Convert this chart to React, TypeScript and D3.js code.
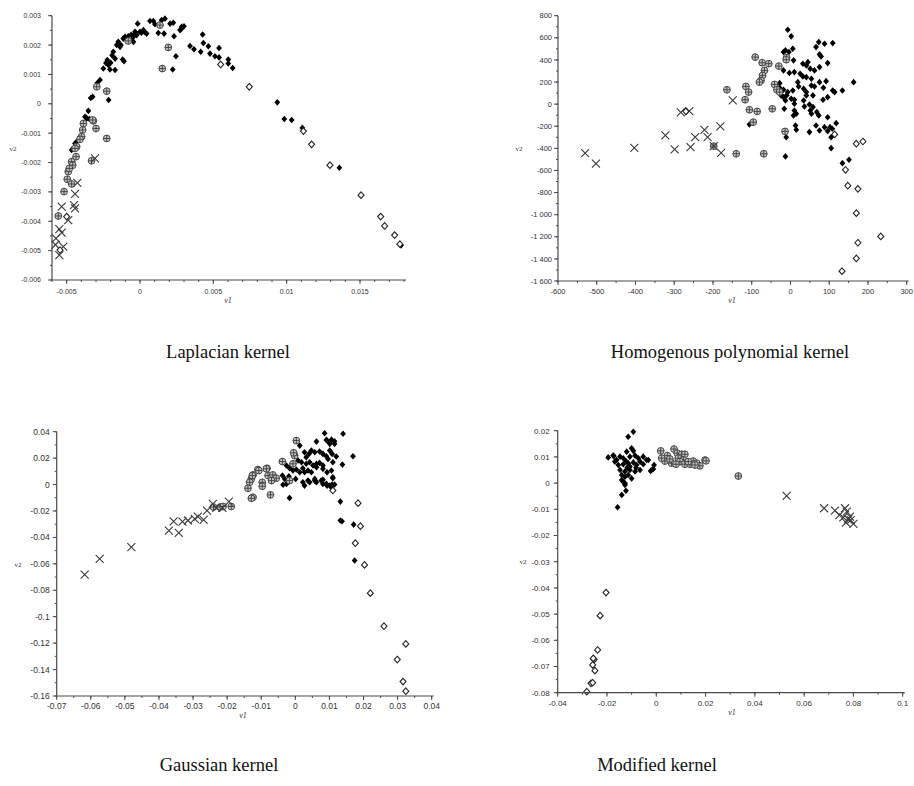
import * as d3 from "d3";

// ─── Data ────────────────────────────────────────────────────────────────────

type Pt = [number, number];

// Laplacian kernel
const LAP_FILLED: Pt[] = [
  [-0.00352, -0.00024], [-0.00368, -0.00046], [-0.00345, -0.00052], [-0.00323, 0.00024],
  [-0.00336, 0.0002], [-0.00291, 0.00071], [-0.00273, 0.00081], [-0.0025, 0.0012],
  [-0.00232, 0.00139], [-0.00216, 0.00132], [-0.00205, 0.00117], [-0.00223, 0.00149],
  [-0.0017, 0.00115], [-0.0017, 0.00154], [-0.00182, 0.00177], [-0.00159, 0.002],
  [-0.00148, 0.00211], [-0.00136, 0.00194], [-0.00114, 0.00222], [-0.00102, 0.00228],
  [-0.00118, 0.00151], [-0.00109, 0.00145], [-0.00057, 0.00217], [-0.00045, 0.00228],
  [-0.00034, 0.00245], [-0.00023, 0.00234], [-0.00016, 0.00273], [0, 0.00245],
  [0.00023, 0.00251], [0.00045, 0.00239], [-0.00045, 0.00211], [0.00068, 0.00282],
  [0.00091, 0.00282], [0.00102, 0.00271], [0.00125, 0.00241], [0.00148, 0.00285],
  [0.0017, 0.0029], [0.00164, 0.00239], [0.00205, 0.00273], [0.00227, 0.00276],
  [0.00232, 0.0023], [0.00245, 0.00162], [0.00223, 0.00117], [0.00273, 0.00251],
  [0.00284, 0.00262], [0.003, 0.00264], [-0.00214, 0.00013], [0.00284, 0.00256],
  [0.00341, 0.00197], [0.00368, 0.00186], [0.00414, 0.00177], [0.00427, 0.00236],
  [0.00432, 0.00207], [0.00466, 0.00196], [0.00477, 0.00171], [0.00511, 0.00162],
  [0.00539, 0.0019], [0.00539, 0.00158], [0.00602, 0.00151], [0.00602, 0.00137],
  [0.00632, 0.00122], [0.00936, 0.00005], [0.00984, -0.00052], [0.01034, -0.00055],
  [0.01107, -0.00082], [0.01359, -0.00218], [0.0178, -0.00482], [-0.0008, 0.0023],
  [-0.0006, 0.00235], [-0.0003, 0.0024], [0.0001, 0.00242], [0.0003, 0.00245],
  [-0.0013, 0.002], [-0.0019, 0.00165], [-0.002, 0.0014], [-0.00375, -0.00044],
  [-0.00363, -0.0005], [-0.00432, -0.00129], [-0.00443, -0.00135], [-0.00409, -0.00112],
  [-0.00466, -0.00157],
];
const LAP_CIRCLE: Pt[] = [
  [-0.0008, 0.00214], [0.00136, 0.00268], [0.00193, 0.00192], [0.00152, 0.0012],
  [-0.00295, 0.00058], [-0.00227, 0.00043], [-0.00386, -0.00067], [-0.00318, -0.00058],
  [-0.003, -0.00084], [-0.00227, -0.00118], [-0.00391, -0.00089], [-0.00398, -0.00112],
  [-0.00432, -0.00146], [-0.00436, -0.0018], [-0.00323, -0.00055], [-0.00409, -0.00121],
  [-0.00443, -0.00152], [-0.00466, -0.00197], [-0.00459, -0.00209], [-0.00489, -0.00231],
  [-0.00482, -0.0022], [-0.00496, -0.00257], [-0.00466, -0.00273], [-0.00518, -0.00299],
  [-0.00557, -0.00382], [-0.0033, -0.00194],
];
const LAP_CROSS: Pt[] = [
  [-0.00307, -0.00186], [-0.00427, -0.00269], [-0.00443, -0.00307], [-0.00534, -0.0035],
  [-0.0045, -0.00345], [-0.00443, -0.00356], [-0.00489, -0.00396], [-0.0055, -0.00427],
  [-0.00534, -0.00439], [-0.00573, -0.00458], [-0.00523, -0.00486], [-0.0055, -0.00515],
  [-0.00577, -0.0048],
];
const LAP_OPEN: Pt[] = [
  [0.0055, 0.00134], [0.00745, 0.00058], [0.01114, -0.00093], [0.0117, -0.00138],
  [0.01295, -0.00209], [0.01507, -0.00311], [0.01641, -0.00384], [0.01668, -0.00416],
  [0.01736, -0.00447], [0.01772, -0.00478], [-0.005, -0.00384], [-0.00545, -0.00498],
];

// Homogenous polynomial kernel
const POLY_FILLED: Pt[] = [
  [-7, 673], [2, 613], [-13, 486], [-4, 471], [6, 501], [-18, 471], [8, 396], [66, 516],
  [73, 561], [88, 546], [109, 552], [75, 450], [79, 432], [45, 380], [32, 366], [41, 350],
  [51, 320], [96, 371], [62, 305], [75, 335], [-28, 190], [-18, 305], [-3, 281], [10, 290],
  [25, 275], [32, 251], [41, 244], [54, 230], [-28, 148], [-18, 130], [-7, 109], [6, 124],
  [19, 199], [21, 160], [34, 139], [41, 109], [54, 169], [62, 160], [75, 199], [85, 148],
  [92, 208], [109, 124], [114, 109], [134, 124], [163, 199], [-24, 79], [-18, 63], [-10, 79],
  [2, 49], [-13, 33], [10, 40], [58, 79], [41, 79], [34, 33], [84, 40], [96, 63], [-16, -42],
  [10, -57], [15, -87], [8, -102], [36, -21], [49, -3], [51, -57], [58, -27], [54, -87],
  [68, -72], [73, -102], [96, -118], [13, -193], [15, -232], [49, -253], [66, -193],
  [75, -238], [88, -208], [96, -244], [102, -208], [108, -223], [118, -172], [105, -299],
  [-11, -299], [-106, -184], [105, -398], [-13, -473], [134, -534], [151, -503], [10, 4],
];
const POLY_CIRCLE: Pt[] = [
  [-91, 425], [-73, 375], [-56, 366], [-67, 305], [-72, 260], [-76, 214], [-80, 199],
  [-30, 344], [-10, 420], [-11, 402], [-41, 178], [-35, 130], [-28, 109], [-164, 130],
  [-115, 160], [-108, 109], [-117, 40], [-106, -51], [-86, -66], [-47, -42], [-96, -163],
  [-14, -247], [-140, -449], [-69, -449], [-198, -380],
];
const POLY_CROSS: Pt[] = [
  [-530, -443], [-502, -539], [-403, -395], [-323, -283], [-299, -410], [-283, -75],
  [-261, -63], [-258, -389], [-149, 33], [-181, -202], [-222, -232], [-246, -299],
  [-214, -299], [-198, -380], [-179, -440],
];
const POLY_OPEN: Pt[] = [
  [114, -274], [170, -358], [187, -338], [142, -594], [148, -738], [174, -766], [170, -986],
  [233, -1197], [174, -1254], [170, -1396], [133, -1511], [-270, -65],
];

// Gaussian kernel
const GAUSS_FILLED: Pt[] = [
  [0.0086, 0.0388], [0.014, 0.0384], [0.0062, 0.0325], [0.0091, 0.0338], [0.0101, 0.032],
  [0.0115, 0.0328], [0.0013, 0.0295], [0.0169, 0.0214], [0.0101, 0.0257], [0.0108, 0.0232],
  [0.012, 0.0212], [0.0138, 0.0151], [0.011, 0.0169], [0.0096, 0.0194], [0.011, 0.0055],
  [0.0108, 0], [0.0091, 0.0005], [0.0101, -0.0008], [0.0115, 0], [0.0081, 0.0036],
  [0.0062, 0.0017], [0.0057, 0.003], [0.0037, 0.003], [0.0022, 0.0017], [0.0027, -0.0008],
  [0.0001, 0.0043], [-0.0026, 0.0005], [-0.0017, -0.0101], [0.0132, -0.0129],
  [0.0132, -0.0272], [0.0137, -0.0278], [0.0171, -0.0303], [0.0174, -0.0575],
  [0.0093, 0.0333], [0.0106, 0.034], [0.0047, 0.0257], [0.0057, 0.0244], [0.004, 0.0232],
  [0.0027, 0.0244], [0.0032, 0.0207], [0.0071, 0.025], [0.0081, 0.0232], [0.0091, 0.0214],
  [0.0008, 0.0182], [0.0018, 0.0169], [0.0032, 0.0157], [0.0042, 0.0169], [0.0052, 0.0144],
  [0.0062, 0.0157], [0.0071, 0.0164], [0.0081, 0.0144], [-0.0026, 0.0144], [-0.0017, 0.0123],
  [-0.0007, 0.0106], [0.0003, 0.0114], [0.0013, 0.0093], [0.0022, 0.0123], [0.0027, 0.0093],
  [0.0037, 0.0106], [0.0047, 0.0093], [-0.0038, 0.0068], [-0.0031, 0.0043], [-0.0019, 0.0063],
  [0.0062, 0.0131], [0.0081, 0.0119], [0.0093, 0.0093], [0.0106, 0.0106], [-0.0036, -0.0002],
  [0.0042, 0.0017], [0.0057, 0.0043], [0.0076, 0.003], [0.0081, 0.0005], [0.0093, -0.0008],
  [0.0106, -0.002], [0.011, 0.0048], [0.0115, 0.0308], [0.0101, 0.0308],
];
const GAUSS_CIRCLE: Pt[] = [
  [-0.024, -0.017], [-0.022, -0.017], [-0.0212, -0.0166], [-0.0188, -0.0166], [0.0003, 0.0333],
  [-0.0002, 0.0219], [-0.0005, 0.024], [-0.0038, 0.0174], [-0.0007, 0.0157], [-0.0083, 0.0123],
  [-0.011, 0.0114], [-0.0124, 0.0073], [-0.0129, 0.0043], [-0.0134, 0.0017], [-0.0139, -0.0028],
  [-0.0097, 0.0017], [-0.0097, -0.0013], [-0.008, 0.0068], [-0.0066, 0.0073], [-0.0056, 0.0048],
  [-0.0124, -0.0096], [-0.0073, -0.0078], [-0.0017, 0.003], [-0.0085, 0.0119], [-0.0107, 0.0106],
  [-0.0126, 0.0068], [-0.0129, -0.0104], [-0.007, 0.003],
];
const GAUSS_CROSS: Pt[] = [
  [-0.0618, -0.0681], [-0.0574, -0.0562], [-0.0481, -0.0474], [-0.0371, -0.0348],
  [-0.0357, -0.0278], [-0.0342, -0.0366], [-0.0331, -0.028], [-0.0315, -0.0272],
  [-0.0295, -0.026], [-0.0286, -0.0242], [-0.0269, -0.0267], [-0.0259, -0.0197],
  [-0.0242, -0.0146], [-0.0232, -0.0176], [-0.0214, -0.0176], [-0.0195, -0.0129],
];
const GAUSS_OPEN: Pt[] = [
  [0.011, -0.0045], [0.0184, -0.0141], [0.0191, -0.0315], [0.0176, -0.0444], [0.0203, -0.0608],
  [0.022, -0.0822], [0.026, -0.1072], [0.0324, -0.1206], [0.0299, -0.1324], [0.0316, -0.1491],
  [0.0324, -0.1564],
];

// Modified kernel
const MOD_FILLED: Pt[] = [
  [-0.0093, 0.0196], [-0.0114, 0.0177], [-0.0195, 0.0098], [-0.0172, 0.0103], [-0.0039, 0.0088],
  [-0.0009, 0.0069], [-0.0019, 0.005], [-0.014, -0.0045], [-0.0123, -0.0029], [-0.0127, -0.0001],
  [-0.0157, -0.0092], [-0.012, 0.012], [-0.01, 0.0133], [-0.0093, 0.0123], [-0.0161, 0.0088],
  [-0.0147, 0.0101], [-0.0134, 0.0095], [-0.0107, 0.0101], [-0.0086, 0.0105], [-0.0073, 0.0095],
  [-0.0154, 0.0069], [-0.0134, 0.0072], [-0.0114, 0.0076], [-0.0093, 0.0079], [-0.008, 0.0069],
  [-0.0066, 0.0082], [-0.0053, 0.0072], [-0.0032, 0.0088], [-0.0147, 0.005], [-0.0127, 0.0044],
  [-0.0107, 0.005], [-0.0086, 0.0044], [-0.0066, 0.005], [-0.014, 0.0031], [-0.0127, 0.0024],
  [-0.0114, 0.0031], [-0.01, 0.0018], [-0.0134, 0.0005], [-0.0127, -0.0007], [-0.014, 0.0012],
  [-0.0023, 0.0046], [-0.0168, 0.0082], [-0.0123, 0.0084], [-0.0107, 0.0063], [-0.0082, 0.0059],
  [-0.0118, 0.0059], [-0.0053, 0.0101], [-0.0175, 0.0105], [-0.0012, 0.0054],
];
const MOD_CIRCLE: Pt[] = [
  [0.0018, 0.0123], [0.0072, 0.013], [0.0045, 0.0105], [0.0035, 0.0084], [0.0022, 0.0095],
  [0.0062, 0.0076], [0.0055, 0.0092], [0.0085, 0.0114], [0.0103, 0.011], [0.0116, 0.011],
  [0.0089, 0.0095], [0.011, 0.0088], [0.0096, 0.0082], [0.008, 0.0072], [0.0116, 0.0072],
  [0.0137, 0.0072], [0.015, 0.0084], [0.0164, 0.0076], [0.0177, 0.0066], [0.0198, 0.0088],
  [0.0202, 0.0085], [0.0333, 0.0027], [0.013, 0.0082], [0.0157, 0.0069],
];
const MOD_CROSS: Pt[] = [
  [0.0529, -0.0049], [0.0681, -0.0096], [0.0725, -0.0105], [0.0743, -0.0122], [0.0766, -0.0096],
  [0.0773, -0.0109], [0.0759, -0.0131], [0.0779, -0.0138], [0.08, -0.0156], [0.077, -0.0151],
  [0.0789, -0.0141], [0.0786, -0.0128],
];
const MOD_OPEN: Pt[] = [
  [-0.0204, -0.0418], [-0.0228, -0.0506], [-0.0238, -0.0637], [-0.0252, -0.0673],
  [-0.0256, -0.0669], [-0.0258, -0.0694], [-0.0249, -0.0716], [-0.0265, -0.0764],
  [-0.0258, -0.0762], [-0.0282, -0.0796],
];

// Tick labels
const LAP_XTICKS = [-0.005, 0, 0.005, 0.01, 0.015];
const LAP_YTICKS = [0.003, 0.002, 0.001, 0, -0.001, -0.002, -0.003, -0.004, -0.005, -0.006];
const POLY_XTICKS = [-600, -500, -400, -300, -200, -100, 0, 100, 200, 300];
const POLY_YTICKS = [800, 600, 400, 200, 0, -200, -400, -600, -800, -1000, -1200, -1400, -1600];
const GAUSS_XTICKS = [-0.07, -0.06, -0.05, -0.04, -0.03, -0.02, -0.01, 0, 0.01, 0.02, 0.03, 0.04];
const GAUSS_YTICKS = [0.04, 0.02, 0, -0.02, -0.04, -0.06, -0.08, -0.1, -0.12, -0.14, -0.16];
const MOD_XTICKS = [-0.04, -0.02, 0, 0.02, 0.04, 0.06, 0.08, 0.1];
const MOD_YTICKS = [0.02, 0.01, 0, -0.01, -0.02, -0.03, -0.04, -0.05, -0.06, -0.07, -0.08];

const CAPTIONS = [
  "Laplacian kernel",
  "Homogenous polynomial kernel",
  "Gaussian kernel",
  "Modified kernel",
];

// ─── Helpers ──────────────────────────────────────────────────────────────────

const AXIS = "#4a4a4a";
const TXT = "#333";

function fmt(v: number) {
  const s = String(+v.toFixed(6));
  const neg = s.startsWith("-");
  let body = neg ? s.slice(1) : s;
  if (Math.abs(v) >= 1000) body = body.replace(/\B(?=(\d{3})+(?!\d))/g, " ");
  return (neg ? "-" : "") + body;
}

function steps(d0: number, d1: number, step: number) {
  const n = Math.round((d1 - d0) / step);
  return d3.range(n + 1).map((i) => d0 + i * step);
}

interface PanelCfg {
  xDomain: [number, number];
  yDomain: [number, number];
  xRange: [number, number];
  yRange: [number, number];
  xTicks: number[];
  yTicks: number[];
  xMinor: number;
  yMinor: number;
  fontSize: number;
  yLabelGap: number;
  xLabelDy: number;
  v1: [number, number];
  v2: [number, number];
  caption: string;
  capPos: [number, number];
  filled: Pt[];
  circle: Pt[];
  cross: Pt[];
  open: Pt[];
}

function Panel({ c }: { c: PanelCfg }) {
  const x = d3.scaleLinear().domain(c.xDomain).range(c.xRange);
  const y = d3.scaleLinear().domain(c.yDomain).range(c.yRange);
  const x0 = c.xRange[0];
  const y0 = c.yRange[0];
  const xMin = steps(c.xDomain[0], c.xDomain[1], c.xMinor);
  const yMin = steps(c.yDomain[0], c.yDomain[1], c.yMinor);

  return (
    <g>
      {/* markers */}
      {c.filled.map((d, i) => (
        <path
          key={"f" + i}
          transform={`translate(${x(d[0])},${y(d[1])})`}
          d="M0,-3.3L2.9,0L0,3.3L-2.9,0Z"
          fill="#000"
        />
      ))}
      {c.circle.map((d, i) => (
        <g key={"c" + i} transform={`translate(${x(d[0])},${y(d[1])})`}>
          <circle r={3.4} fill="#c4c4c4" stroke="#3a3a3a" strokeWidth={0.9} />
          <path d="M-3.4,0H3.4M0,-3.4V3.4" stroke="#3a3a3a" strokeWidth={0.9} />
        </g>
      ))}
      {c.cross.map((d, i) => (
        <path
          key={"x" + i}
          transform={`translate(${x(d[0])},${y(d[1])})`}
          d="M-4,-4L4,4M-4,4L4,-4"
          stroke="#3a3a3a"
          strokeWidth={1.1}
          fill="none"
        />
      ))}
      {c.open.map((d, i) => (
        <path
          key={"o" + i}
          transform={`translate(${x(d[0])},${y(d[1])})`}
          d="M0,-3.3L3,0L0,3.3L-3,0Z"
          fill="#fff"
          stroke="#222"
          strokeWidth={1.1}
        />
      ))}

      {/* axes */}
      <line x1={x0} x2={x0} y1={c.yRange[0]} y2={c.yRange[1]} stroke={AXIS} strokeWidth={1.2} />
      <line x1={c.xRange[0]} x2={c.xRange[1] + 2} y1={y0} y2={y0} stroke={AXIS} strokeWidth={1.2} />
      {yMin.map((v, i) => (
        <line key={"ym" + i} x1={x0 - 2} x2={x0} y1={y(v)} y2={y(v)} stroke={AXIS} strokeWidth={1} />
      ))}
      {xMin.map((v, i) => (
        <line key={"xm" + i} x1={x(v)} x2={x(v)} y1={y0} y2={y0 + 2} stroke={AXIS} strokeWidth={1} />
      ))}
      {c.yTicks.map((v, i) => (
        <g key={"yt" + i}>
          <line x1={x0 - 4} x2={x0} y1={y(v)} y2={y(v)} stroke={AXIS} strokeWidth={1} />
          <text
            x={x0 - c.yLabelGap}
            y={y(v) + c.fontSize * 0.35}
            textAnchor="end"
            fontSize={c.fontSize}
            fontFamily="'Liberation Sans', Arial, sans-serif"
            fill={TXT}
          >
            {fmt(v)}
          </text>
        </g>
      ))}
      {c.xTicks.map((v, i) => (
        <g key={"xt" + i}>
          <line x1={x(v)} x2={x(v)} y1={y0} y2={y0 + 4} stroke={AXIS} strokeWidth={1} />
          <text
            x={x(v)}
            y={y0 + c.xLabelDy}
            textAnchor="middle"
            fontSize={c.fontSize}
            fontFamily="'Liberation Sans', Arial, sans-serif"
            fill={TXT}
          >
            {fmt(v)}
          </text>
        </g>
      ))}
      <text
        x={c.v1[0]}
        y={c.v1[1]}
        textAnchor="middle"
        fontSize={8}
        fontStyle="italic"
        fontFamily="'Liberation Serif', serif"
        fill={TXT}
      >
        v1
      </text>
      <text
        x={c.v2[0]}
        y={c.v2[1]}
        textAnchor="middle"
        fontSize={7}
        fontFamily="'Liberation Serif', serif"
        fill={TXT}
      >
        v2
      </text>
      <text
        x={c.capPos[0]}
        y={c.capPos[1]}
        textAnchor="middle"
        fontSize={18.5}
        fontFamily="'Liberation Serif', 'Times New Roman', serif"
        fill="#111"
      >
        {c.caption}
      </text>
    </g>
  );
}

const PANELS: PanelCfg[] = [
  {
    xDomain: [-0.006, 0.018],
    yDomain: [-0.006, 0.003],
    xRange: [52, 404],
    yRange: [280, 15.7],
    xTicks: LAP_XTICKS,
    yTicks: LAP_YTICKS,
    xMinor: 0.001,
    yMinor: 0.0005,
    fontSize: 7,
    yLabelGap: 11,
    xLabelDy: 14,
    v1: [228, 303],
    v2: [13, 151],
    caption: CAPTIONS[0],
    capPos: [228, 358],
    filled: LAP_FILLED,
    circle: LAP_CIRCLE,
    cross: LAP_CROSS,
    open: LAP_OPEN,
  },
  {
    xDomain: [-600, 300],
    yDomain: [-1600, 800],
    xRange: [558, 906.7],
    yRange: [281, 15.7],
    xTicks: POLY_XTICKS,
    yTicks: POLY_YTICKS,
    xMinor: 50,
    yMinor: 100,
    fontSize: 7.5,
    yLabelGap: 6,
    xLabelDy: 12.5,
    v1: [732, 303],
    v2: [519, 151],
    caption: CAPTIONS[1],
    capPos: [730, 358],
    filled: POLY_FILLED,
    circle: POLY_CIRCLE,
    cross: POLY_CROSS,
    open: POLY_OPEN,
  },
  {
    xDomain: [-0.07, 0.04],
    yDomain: [-0.16, 0.04],
    xRange: [56.7, 431.7],
    yRange: [696, 431.7],
    xTicks: GAUSS_XTICKS,
    yTicks: GAUSS_YTICKS,
    xMinor: 0.005,
    yMinor: 0.01,
    fontSize: 8.5,
    yLabelGap: 7,
    xLabelDy: 13,
    v1: [243, 718],
    v2: [18, 567],
    caption: CAPTIONS[2],
    capPos: [219, 771],
    filled: GAUSS_FILLED,
    circle: GAUSS_CIRCLE,
    cross: GAUSS_CROSS,
    open: GAUSS_OPEN,
  },
  {
    xDomain: [-0.04, 0.1],
    yDomain: [-0.08, 0.02],
    xRange: [557.7, 902.7],
    yRange: [692.7, 430.7],
    xTicks: MOD_XTICKS,
    yTicks: MOD_YTICKS,
    xMinor: 0.01,
    yMinor: 0.005,
    fontSize: 8,
    yLabelGap: 8,
    xLabelDy: 13,
    v1: [732, 715],
    v2: [523, 564],
    caption: CAPTIONS[3],
    capPos: [657, 771],
    filled: MOD_FILLED,
    circle: MOD_CIRCLE,
    cross: MOD_CROSS,
    open: MOD_OPEN,
  },
];

export default function App() {
  return (
    <svg
      width={914}
      height={786}
      viewBox="0 0 914 786"
      style={{ position: "absolute", left: 0, top: 0, background: "#fff", display: "block" }}
    >
      <rect width={914} height={786} fill="#fff" />
      {PANELS.map((c, i) => (
        <Panel key={i} c={c} />
      ))}
    </svg>
  );
}
